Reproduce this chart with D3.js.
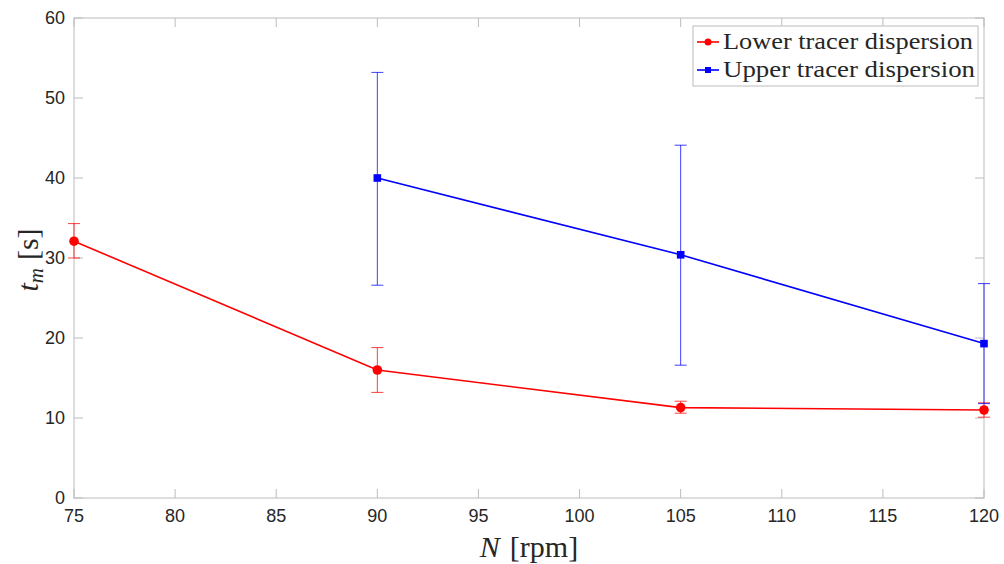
<!DOCTYPE html>
<html>
<head>
<meta charset="utf-8">
<script src="https://cdn.jsdelivr.net/npm/d3@7"></script>
<style>
body { margin: 0; background: #fff; }
svg { display: block; }
</style>
</head>
<body>
<div id="vis"></div>
<script>
// data
var lower_N = [75, 90, 105, 120]
var lower_t = [32.1, 16.0, 11.3, 11.0]
var lower_lo = [30.0, 13.2, 10.6, 10.1]
var lower_hi = [34.3, 18.8, 12.1, 11.9]

var upper_N = [90, 105, 120]
var upper_t = [40.0, 30.4, 19.3]
var upper_lo = [26.6, 16.6, 11.8]
var upper_hi = [53.2, 44.1, 26.8]

var x_ticks = [75, 80, 85, 90, 95, 100, 105, 110, 115, 120]
var y_ticks = [0, 10, 20, 30, 40, 50, 60]
var legend_labels = ["Lower tracer dispersion", "Upper tracer dispersion"]

var width = 1004
var height = 564
// note: "top" is reserved on window, so prefix these
var plot_left = 74, plot_right = 984, plot_top = 18, plot_bottom = 498

var svg = d3.select("#vis").append("svg")
	.attr("width", width)
	.attr("height", height)

var x = d3.scaleLinear().domain([75, 120]).range([plot_left, plot_right])
var y = d3.scaleLinear().domain([0, 60]).range([plot_bottom, plot_top])

var axis_col = "#bcbcbc"
var text_col = "#262626"

// box
svg.append("rect")
	.attr("x", plot_left).attr("y", plot_top)
	.attr("width", plot_right - plot_left).attr("height", plot_bottom - plot_top)
	.attr("fill", "none").attr("stroke", axis_col).attr("stroke-width", 1)

// ticks (inside, on all four sides)
var tick_len = 9
x_ticks.forEach(function(t) {
	svg.append("line").attr("x1", x(t)).attr("x2", x(t)).attr("y1", plot_bottom).attr("y2", plot_bottom - tick_len)
		.attr("stroke", axis_col)
	svg.append("line").attr("x1", x(t)).attr("x2", x(t)).attr("y1", plot_top).attr("y2", plot_top + tick_len)
		.attr("stroke", axis_col)
	svg.append("text").attr("x", x(t)).attr("y", plot_bottom + 24)
		.attr("text-anchor", "middle")
		.style("font-family", "'Liberation Sans', Arial, sans-serif")
		.style("font-size", "18px").attr("fill", text_col)
		.text(t)
})
y_ticks.forEach(function(t) {
	svg.append("line").attr("x1", plot_left).attr("x2", plot_left + tick_len).attr("y1", y(t)).attr("y2", y(t))
		.attr("stroke", axis_col)
	svg.append("line").attr("x1", plot_right).attr("x2", plot_right - tick_len).attr("y1", y(t)).attr("y2", y(t))
		.attr("stroke", axis_col)
	svg.append("text").attr("x", plot_left - 9).attr("y", y(t) + 6)
		.attr("text-anchor", "end")
		.style("font-family", "'Liberation Sans', Arial, sans-serif")
		.style("font-size", "18px").attr("fill", text_col)
		.text(t)
})

// axis labels
var xl = svg.append("text").attr("x", (plot_left + plot_right) / 2).attr("y", 557)
	.attr("text-anchor", "middle")
	.style("font-family", "'Liberation Serif', 'DejaVu Serif', serif")
	.style("font-size", "30px").attr("fill", text_col)
xl.append("tspan").style("font-style", "italic").text("N")
xl.append("tspan").attr("dx", 10).text("[rpm]")

var yl = svg.append("text")
	.attr("transform", "translate(38," + ((plot_top + plot_bottom) / 2 + 2) + ") rotate(-90)")
	.attr("text-anchor", "middle")
	.style("font-family", "'Liberation Serif', 'DejaVu Serif', serif")
	.style("font-size", "30px").attr("fill", text_col)
yl.append("tspan").style("font-style", "italic").text("t")
yl.append("tspan").style("font-style", "italic").style("font-size", "21px").attr("dy", 5).text("m")
yl.append("tspan").attr("dy", -5).attr("dx", 8).text("[s]")

function draw_series(N, t, lo, hi, col, marker) {
	var g = svg.append("g")
	var cap = 6
	N.forEach(function(n, i) {
		g.append("line").attr("x1", x(n)).attr("x2", x(n)).attr("y1", y(lo[i])).attr("y2", y(hi[i]))
			.attr("stroke", col).attr("stroke-width", 1).attr("opacity", 0.75)
		;[lo[i], hi[i]].forEach(function(v) {
			g.append("line").attr("x1", x(n) - cap).attr("x2", x(n) + cap).attr("y1", y(v)).attr("y2", y(v))
				.attr("stroke", col).attr("stroke-width", 1).attr("opacity", 0.75)
		})
	})
	var line = d3.line().x(function(d) { return x(d[0]) }).y(function(d) { return y(d[1]) })
	g.append("path").datum(N.map(function(n, i) { return [n, t[i]] }))
		.attr("d", line).attr("fill", "none").attr("stroke", col).attr("stroke-width", 1.6)
	N.forEach(function(n, i) {
		if (marker == "circle") {
			g.append("circle").attr("cx", x(n)).attr("cy", y(t[i])).attr("r", 4.8).attr("fill", col)
		} else {
			g.append("rect").attr("x", x(n) - 3.8).attr("y", y(t[i]) - 3.8).attr("width", 7.6).attr("height", 7.6)
				.attr("fill", col)
		}
	})
}

draw_series(lower_N, lower_t, lower_lo, lower_hi, "#ff0000", "circle")
draw_series(upper_N, upper_t, upper_lo, upper_hi, "#0000ff", "square")

// legend
var lg = svg.append("g")
lg.append("rect").attr("x", 693).attr("y", 26).attr("width", 285).attr("height", 60)
	.attr("fill", "#fff").attr("stroke", axis_col)
var cols = ["#ff0000", "#0000ff"]
legend_labels.forEach(function(lab, i) {
	var yy = 42 + i * 28
	lg.append("line").attr("x1", 697).attr("x2", 719).attr("y1", yy).attr("y2", yy)
		.attr("stroke", cols[i]).attr("stroke-width", 1.6)
	if (i == 0) {
		lg.append("circle").attr("cx", 708).attr("cy", yy).attr("r", 3.5).attr("fill", cols[i])
	} else {
		lg.append("rect").attr("x", 705).attr("y", yy - 3).attr("width", 6).attr("height", 6).attr("fill", cols[i])
	}
	lg.append("text").attr("x", 723).attr("y", yy + 7)
		.style("font-family", "'Liberation Serif', 'DejaVu Serif', serif")
		.style("font-size", "23px").attr("fill", text_col)
		.attr("textLength", i == 0 ? 250 : 252).attr("lengthAdjust", "spacingAndGlyphs")
		.text(lab)
})
</script>
</body>
</html>
